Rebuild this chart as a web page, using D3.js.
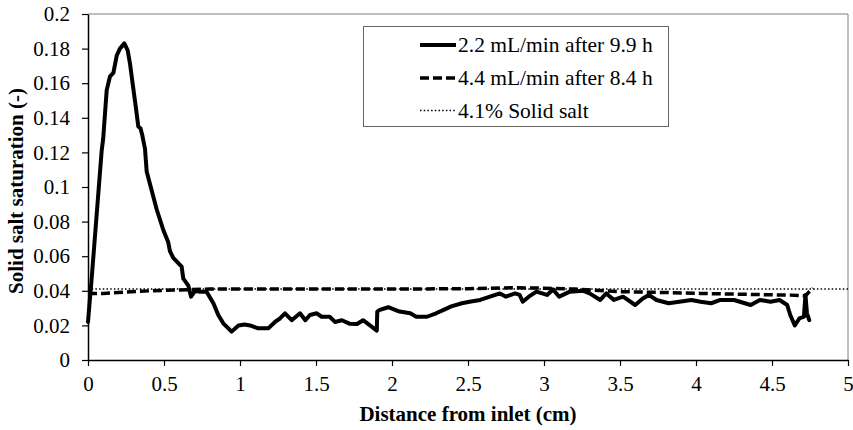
<!DOCTYPE html>
<html>
<head>
<meta charset="utf-8">
<script src="https://cdn.jsdelivr.net/npm/d3@7"></script>
<style>
  html, body { margin: 0; padding: 0; background: #fff; }
  svg { display: block; font-family: "Liberation Serif", "Times New Roman", serif; }
</style>
</head>
<body>
<svg id="chart" width="853" height="430"></svg>
<script>
// Solid salt saturation profiles along the core (distance in cm, saturation as fraction)
const flow22 = [
  [0, 0.022], [0.024, 0.047], [0.09, 0.121], [0.10, 0.128], [0.123, 0.156], [0.145, 0.164],
  [0.167, 0.166], [0.189, 0.176], [0.21, 0.180], [0.239, 0.183], [0.261, 0.179], [0.276, 0.1715],
  [0.298, 0.157], [0.314, 0.1465], [0.331, 0.135], [0.345, 0.134], [0.357, 0.130], [0.375, 0.122],
  [0.386, 0.109], [0.419, 0.098], [0.452, 0.087], [0.496, 0.075], [0.528, 0.068], [0.539, 0.063],
  [0.561, 0.059], [0.594, 0.056], [0.616, 0.054], [0.627, 0.047], [0.66, 0.043], [0.678, 0.0366],
  [0.704, 0.040], [0.737, 0.0395], [0.78, 0.0395], [0.825, 0.0328], [0.857, 0.026], [0.89, 0.0212],
  [0.945, 0.0164], [0.99, 0.020], [1.03, 0.0205], [1.066, 0.020], [1.12, 0.0183], [1.186, 0.0183],
  [1.23, 0.022], [1.263, 0.024], [1.296, 0.027], [1.34, 0.023], [1.395, 0.027], [1.43, 0.023],
  [1.46, 0.026], [1.505, 0.027], [1.537, 0.025], [1.59, 0.025], [1.625, 0.022], [1.67, 0.023],
  [1.72, 0.021], [1.77, 0.0208], [1.81, 0.023], [1.855, 0.020], [1.9, 0.017], [1.903, 0.028],
  [1.92, 0.029], [1.976, 0.0305], [2.02, 0.029], [2.05, 0.028], [2.12, 0.027], [2.16, 0.025],
  [2.23, 0.025], [2.29, 0.027], [2.34, 0.029], [2.39, 0.031], [2.46, 0.0328], [2.51, 0.0337],
  [2.58, 0.0347], [2.645, 0.0366], [2.71, 0.0385], [2.75, 0.0366], [2.81, 0.0385], [2.84, 0.0376],
  [2.86, 0.0337], [2.9, 0.0366], [2.95, 0.0395], [3.02, 0.0376], [3.06, 0.0408], [3.09, 0.0376],
  [3.1, 0.0366], [3.17, 0.0395], [3.26, 0.040], [3.30, 0.0385], [3.37, 0.0347], [3.41, 0.0385],
  [3.46, 0.0347], [3.52, 0.0366], [3.6, 0.0318], [3.65, 0.0356], [3.69, 0.0376], [3.74, 0.0347],
  [3.82, 0.0328], [3.89, 0.0337], [3.97, 0.0347], [4.03, 0.0337], [4.10, 0.0328], [4.16, 0.0347],
  [4.25, 0.0347], [4.36, 0.0318], [4.42, 0.0347], [4.49, 0.0337], [4.55, 0.0347], [4.60, 0.0318],
  [4.62, 0.026], [4.65, 0.020], [4.68, 0.024], [4.71, 0.025], [4.72, 0.0376], [4.73, 0.027],
  [4.745, 0.023]
];

const flow44 = [
  [0, 0.0385], [0.1, 0.0385], [0.2, 0.039], [0.41, 0.040], [0.6, 0.0405], [0.8, 0.041],
  [1.0, 0.041], [1.5, 0.041], [2.0, 0.041], [2.5, 0.0412], [2.8, 0.0418], [3.0, 0.0415],
  [3.2, 0.041], [3.5, 0.0395], [3.8, 0.039], [4.03, 0.0385], [4.3, 0.038], [4.62, 0.0375],
  [4.72, 0.037], [4.74, 0.039], [4.77, 0.0415]
];

const solidSaltLevel = 0.041;

const xTicks = [0, 0.5, 1, 1.5, 2, 2.5, 3, 3.5, 4, 4.5, 5];
const xTickLabels = ["0", "0.5", "1", "1.5", "2", "2.5", "3", "3.5", "4", "4.5", "5"];
const yTicks = [0, 0.02, 0.04, 0.06, 0.08, 0.1, 0.12, 0.14, 0.16, 0.18, 0.2];
const yTickLabels = ["0", "0.02", "0.04", "0.06", "0.08", "0.1", "0.12", "0.14", "0.16", "0.18", "0.2"];

const legendLabels = ["2.2 mL/min after 9.9 h", "4.4 mL/min after 8.4 h", "4.1% Solid salt"];

const svg = d3.select("#chart");
const margin = { left: 88, right: 5, top: 14, bottom: 70 };
const W = 853, H = 430;

const x = d3.scaleLinear().domain([0, 5]).range([margin.left, W - margin.right]);
const y = d3.scaleLinear().domain([0, 0.2]).range([H - margin.bottom, margin.top]);

// plot frame (top and right edges)
svg.append("path")
  .attr("d", `M${x(0)},${y(0.2)}H${x(5)}V${y(0)}`)
  .attr("fill", "none").attr("stroke", "#808080").attr("stroke-width", 1);

// axes
const fmtX = d => xTickLabels[xTicks.indexOf(d)];
const fmtY = d => yTickLabels[yTicks.indexOf(d)];

const gx = svg.append("g").attr("transform", `translate(0,${y(0)})`)
  .call(d3.axisBottom(x).tickValues(xTicks).tickFormat(fmtX).tickSize(6).tickPadding(10).tickSizeOuter(0));
const gy = svg.append("g").attr("transform", `translate(${x(0)},0)`)
  .call(d3.axisLeft(y).tickValues(yTicks).tickFormat(fmtY).tickSize(6).tickPadding(12).tickSizeOuter(0));

[gx, gy].forEach(g => {
  g.select(".domain").attr("stroke", "#000").attr("stroke-width", 1.5);
  g.selectAll(".tick line").attr("stroke", "#000").attr("stroke-width", 1.2);
  g.selectAll(".tick text")
    .attr("fill", "#000")
    .style("font-family", "'Liberation Serif', 'Times New Roman', serif")
    .style("font-size", "21px");
});

// axis titles
svg.append("text")
  .attr("x", (x(0) + x(5)) / 2).attr("y", 421)
  .attr("text-anchor", "middle")
  .style("font-size", "21px").style("font-weight", "bold")
  .text("Distance from inlet (cm)");

svg.append("text")
  .attr("transform", `translate(23,${(y(0) + y(0.2)) / 2 + 4}) rotate(-90)`)
  .attr("text-anchor", "middle")
  .style("font-size", "21px").style("font-weight", "bold")
  .text("Solid salt saturation (-)");

const line = d3.line().x(d => x(d[0])).y(d => y(d[1]));

// 4.1% solid salt reference level
svg.append("path")
  .datum([[0, solidSaltLevel], [5, solidSaltLevel]])
  .attr("d", line)
  .attr("fill", "none").attr("stroke", "#000").attr("stroke-width", 1.5)
  .attr("stroke-dasharray", "1.5,2.2");

// 4.4 mL/min profile
svg.append("path")
  .datum(flow44)
  .attr("d", line)
  .attr("fill", "none").attr("stroke", "#000").attr("stroke-width", 3.5)
  .attr("stroke-dasharray", "9,4");

// 2.2 mL/min profile
svg.append("path")
  .datum(flow22)
  .attr("d", line)
  .attr("fill", "none").attr("stroke", "#000").attr("stroke-width", 4)
  .attr("stroke-linejoin", "round").attr("stroke-linecap", "round");

// legend
const lg = svg.append("g");
lg.append("rect")
  .attr("x", 363.5).attr("y", 26.5).attr("width", 305).attr("height", 100)
  .attr("fill", "#fff").attr("stroke", "#666").attr("stroke-width", 1);

const legendStyles = [
  { w: 4, dash: null },
  { w: 3.5, dash: "9,4" },
  { w: 1.5, dash: "1.5,2.2" }
];
const rowY = [45, 78, 110.5];
legendLabels.forEach((lab, i) => {
  const s = legendStyles[i];
  const p = lg.append("line")
    .attr("x1", 420).attr("x2", 456).attr("y1", rowY[i]).attr("y2", rowY[i])
    .attr("stroke", "#000").attr("stroke-width", s.w);
  if (s.dash) p.attr("stroke-dasharray", s.dash);
  lg.append("text")
    .attr("x", 458).attr("y", rowY[i] + 7)
    .style("font-size", "21.5px")
    .text(lab);
});
</script>
</body>
</html>
